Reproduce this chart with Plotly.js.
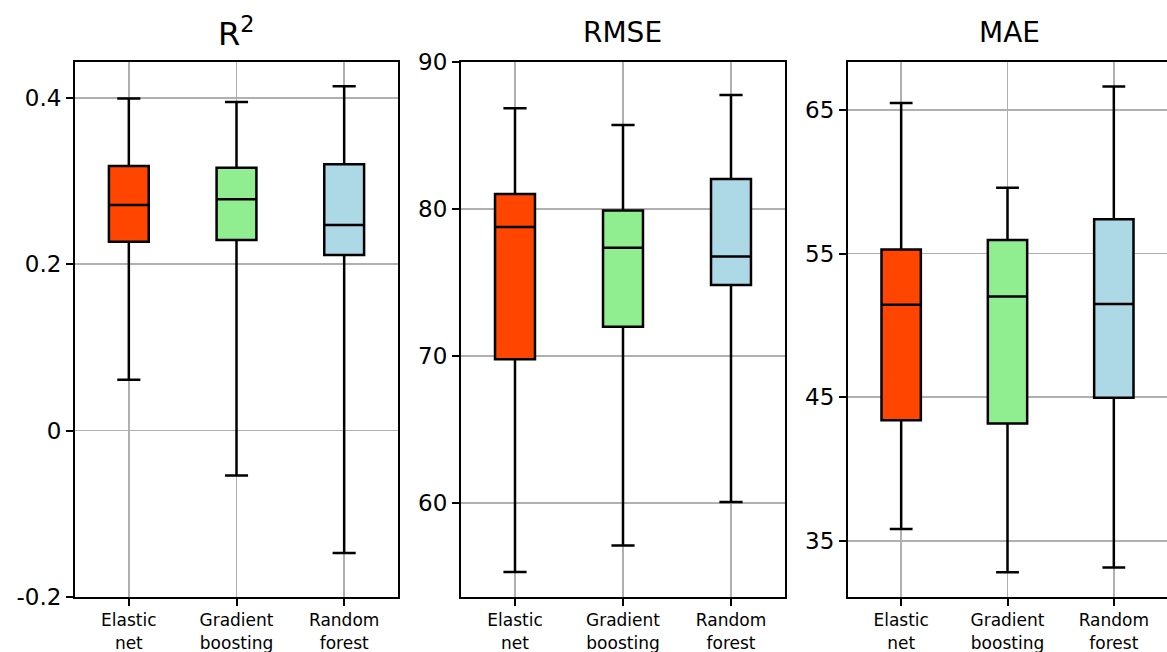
<!DOCTYPE html>
<html>
<head>
<meta charset="utf-8">
<script src="https://cdn.plot.ly/plotly-3.0.1.min.js"></script>
<style>html,body{margin:0;padding:0;background:#fff;}#chart{width:1167px;height:652px;}</style>
</head>
<body>
<div id="chart"></div>
<script>
// ---- data ----
const categories = ["Elastic<br>net", "Gradient<br>boosting", "Random<br>forest"];
const colors = ["#FF4500", "#90EE90", "#ADD8E6"];

const r2Lower  = [0.061, -0.054, -0.147];
const r2Q1     = [0.227, 0.229, 0.211];
const r2Median = [0.271, 0.278, 0.247];
const r2Q3     = [0.318, 0.316, 0.320];
const r2Upper  = [0.399, 0.395, 0.414];

const rmseLower  = [55.3, 57.1, 60.06];
const rmseQ1     = [69.78, 71.99, 74.82];
const rmseMedian = [78.78, 77.37, 76.77];
const rmseQ3     = [81.02, 79.89, 82.04];
const rmseUpper  = [86.86, 85.72, 87.76];

const maeLower  = [35.84, 32.82, 33.16];
const maeQ1     = [43.40, 43.17, 44.97];
const maeMedian = [51.43, 52.01, 51.49];
const maeQ3     = [55.29, 55.95, 57.38];
const maeUpper  = [65.47, 59.58, 66.63];

const r2TickVals = [-0.2, 0, 0.2, 0.4];
const r2TickText = ["-0.2", "0", "0.2", "0.4"];
const rmseTickVals = [60, 70, 80, 90];
const rmseTickText = ["60", "70", "80", "90"];
const maeTickVals = [35, 45, 55, 65];
const maeTickText = ["35", "45", "55", "65"];

const titles = ["R<sup>2</sup>", "RMSE", "MAE"];

// ---- build ----
const W = 1167;
const metrics = [
  {lo: r2Lower, q1: r2Q1, md: r2Median, q3: r2Q3, hi: r2Upper, range: [-0.2, 0.443], tv: r2TickVals, tt: r2TickText, dom: [75/W, 398/W], tsize: 32},
  {lo: rmseLower, q1: rmseQ1, md: rmseMedian, q3: rmseQ3, hi: rmseUpper, range: [53.6, 90], tv: rmseTickVals, tt: rmseTickText, dom: [461/W, 785/W], tsize: 28},
  {lo: maeLower, q1: maeQ1, md: maeMedian, q3: maeQ3, hi: maeUpper, range: [31.1, 68.33], tv: maeTickVals, tt: maeTickText, dom: [848/W, 1], tsize: 28}
];

const traces = [];
const layout = {
  width: 1167, height: 652,
  margin: {l: 0, r: 0, t: 62, b: 55},
  paper_bgcolor: "#ffffff", plot_bgcolor: "#ffffff",
  showlegend: false,
  boxmode: "overlay",
  font: {family: "DejaVu Sans", color: "#000"},
  annotations: []
};

metrics.forEach((m, i) => {
  const xa = i === 0 ? "x" : "x" + (i + 1);
  const ya = i === 0 ? "y" : "y" + (i + 1);
  categories.forEach((c, j) => {
    traces.push({
      type: "box",
      x: [c],
      q1: [m.q1[j]], median: [m.md[j]], q3: [m.q3[j]],
      lowerfence: [m.lo[j]], upperfence: [m.hi[j]],
      xaxis: xa, yaxis: ya,
      width: 0.37,
      whiskerwidth: 0.58,
      boxpoints: false,
      fillcolor: colors[j],
      line: {color: "#000", width: 2.5},
      hoverinfo: "skip"
    });
  });
  const xk = i === 0 ? "xaxis" : "xaxis" + (i + 1);
  const yk = i === 0 ? "yaxis" : "yaxis" + (i + 1);
  layout[xk] = {
    domain: m.dom, anchor: ya,
    type: "category",
    categoryorder: "array", categoryarray: categories,
    range: [-0.5, 2.5],
    showline: true, mirror: true, linecolor: "#000", linewidth: 2,
    showgrid: true, gridcolor: "#b0b0b0", gridwidth: 1.8,
    ticks: "outside", ticklen: 7, tickwidth: 2, tickcolor: "#000",
    tickfont: {family: "DejaVu Sans", size: 17, color: "#000"},
    zeroline: false, fixedrange: true
  };
  layout[yk] = {
    domain: [0, 1], anchor: xa,
    range: m.range,
    tickvals: m.tv, ticktext: m.tt,
    showline: true, mirror: true, linecolor: "#000", linewidth: 2,
    showgrid: true, gridcolor: "#b0b0b0", gridwidth: 1.8,
    ticks: "outside", ticklen: 7, tickwidth: 2, tickcolor: "#000",
    tickfont: {family: "DejaVu Sans", size: 23, color: "#000"},
    zeroline: false, fixedrange: true
  };
  layout.annotations.push({
    text: titles[i],
    xref: "paper", yref: "paper",
    x: (m.dom[0] + (i === 2 ? 1171/W : m.dom[1])) / 2,
    y: 1, yshift: 30,
    xanchor: "center", yanchor: "middle",
    showarrow: false,
    font: {family: "DejaVu Sans", size: m.tsize, color: "#000"}
  });
});

Plotly.newPlot("chart", traces, layout, {displayModeBar: false, staticPlot: true});
</script>
</body>
</html>
